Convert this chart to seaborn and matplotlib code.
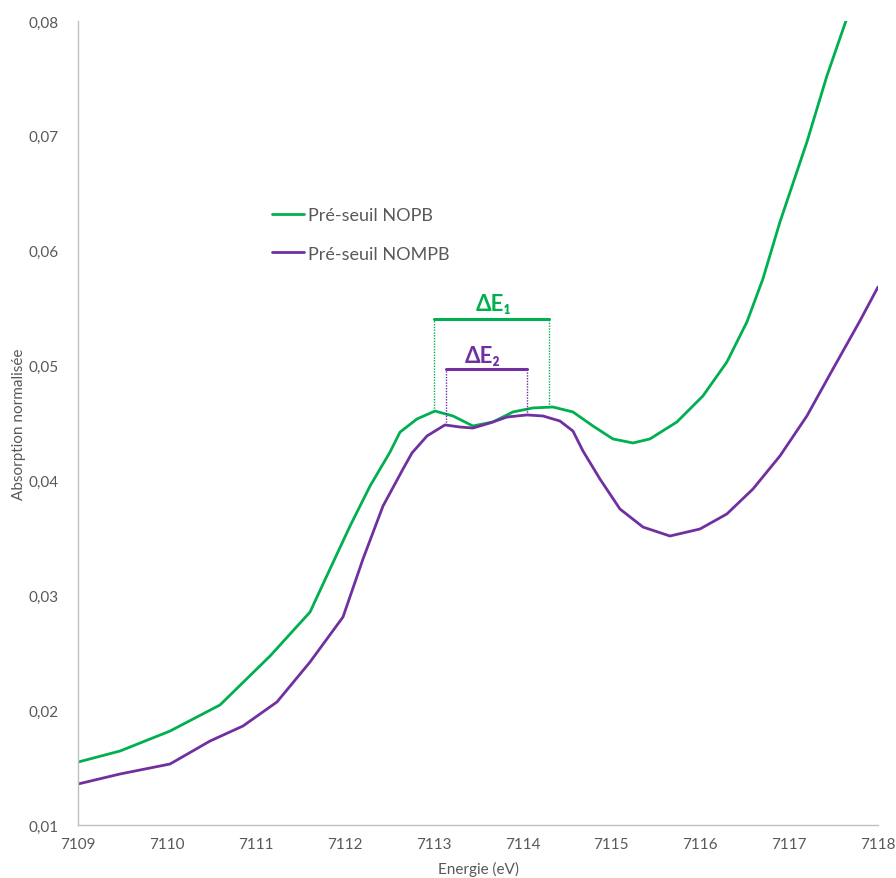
import numpy as np
import pandas as pd
import matplotlib
matplotlib.use("Agg")
import matplotlib.pyplot as plt
import seaborn as sns

# Données
energie_nopb = [7109.000, 7109.472, 7110.035, 7110.597, 7111.160, 7111.610, 7111.835, 7112.060,
                7112.285, 7112.510, 7112.622, 7112.813, 7113.016, 7113.218, 7113.443, 7113.668,
                7113.893, 7114.118, 7114.343, 7114.568, 7114.793, 7115.018, 7115.243, 7115.434,
                7115.738, 7116.030, 7116.300, 7116.525, 7116.705, 7116.897, 7117.200, 7117.425,
                7117.639]
absorption_nopb = [0.01548, 0.01644, 0.01818, 0.02045, 0.02471, 0.02854, 0.03229, 0.03603,
                   0.03951, 0.04247, 0.04420, 0.04535, 0.04604, 0.04561, 0.04474, 0.04509,
                   0.04596, 0.04631, 0.04639, 0.04596, 0.04474, 0.04361, 0.04326, 0.04361,
                   0.04509, 0.04735, 0.05031, 0.05379, 0.05754, 0.06250, 0.06946, 0.07521,
                   0.08000]

energie_nompb = [7109.000, 7109.472, 7110.035, 7110.485, 7110.856, 7111.238, 7111.610, 7111.981,
                 7112.206, 7112.431, 7112.656, 7112.757, 7112.926, 7113.128, 7113.297, 7113.443,
                 7113.634, 7113.826, 7114.051, 7114.231, 7114.422, 7114.568, 7114.681, 7114.872,
                 7115.097, 7115.356, 7115.659, 7115.997, 7116.300, 7116.593, 7116.897, 7117.200,
                 7117.493, 7117.796, 7118.000]
absorption_nompb = [0.01357, 0.01444, 0.01531, 0.01731, 0.01862, 0.02071, 0.02419, 0.02811,
                    0.03316, 0.03777, 0.04099, 0.04239, 0.04387, 0.04483, 0.04465, 0.04456,
                    0.04500, 0.04552, 0.04570, 0.04561, 0.04517, 0.04430, 0.04256, 0.04012,
                    0.03751, 0.03594, 0.03516, 0.03577, 0.03708, 0.03925, 0.04213, 0.04561,
                    0.04970, 0.05388, 0.05684]

# Intervalles ΔE (début, fin, hauteur) et bas des pointillés
de1 = (7113.00, 7114.30, 0.05405)
de1_bas = (0.04604, 0.04639)
de2 = (7113.14, 7114.05, 0.0497)
de2_bas = (0.04483, 0.04570)

vert = "#00B050"
violet = "#7030A0"
gris = "#595959"

sns.set_theme(style="white")
plt.rcParams['font.family'] = ['Lato', 'DejaVu Sans']

df = pd.concat([
    pd.DataFrame({'Energie': energie_nopb, 'Absorption': absorption_nopb, 'Serie': 'Pré-seuil NOPB'}),
    pd.DataFrame({'Energie': energie_nompb, 'Absorption': absorption_nompb, 'Serie': 'Pré-seuil NOMPB'}),
])

fig = plt.figure(figsize=(8.96, 8.79), dpi=100)
ax = fig.add_axes([0.0871, 0.0603, 0.8928, 0.9147])

sns.lineplot(data=df, x='Energie', y='Absorption', hue='Serie',
             palette={'Pré-seuil NOPB': vert, 'Pré-seuil NOMPB': violet},
             linewidth=2.0, sort=False, ax=ax)
for ln in ax.get_lines():
    ln.set_solid_joinstyle('round')
    ln.set_solid_capstyle('round')

# Annotations ΔE
ax.plot([de1[0], de1[1]], [de1[2], de1[2]], color=vert, lw=2.2)
ax.plot([de1[0], de1[0]], [de1_bas[0], de1[2]], color=vert, lw=1, ls=(0, (1, 1)))
ax.plot([de1[1], de1[1]], [de1_bas[1], de1[2]], color=vert, lw=1, ls=(0, (1, 1)))
ax.plot([de2[0], de2[1]], [de2[2], de2[2]], color=violet, lw=2.2)
ax.plot([de2[0], de2[0]], [de2_bas[0], de2[2]], color=violet, lw=1, ls=(0, (1, 1)))
ax.plot([de2[1], de2[1]], [de2_bas[1], de2[2]], color=violet, lw=1, ls=(0, (1, 1)))
ax.text((de1[0] + de1[1]) / 2 + 0.02, de1[2] + 0.0004, 'ΔE₁', color=vert, fontsize=16,
        fontweight='bold', ha='center', va='bottom')
ax.text((de2[0] + de2[1]) / 2 - 0.04, de2[2] + 0.0003, 'ΔE₂', color=violet, fontsize=16,
        fontweight='bold', ha='center', va='bottom')

ax.set_xlim(7109, 7118)
ax.set_ylim(0.01, 0.08)
ax.set_xticks(range(7109, 7119))
ax.set_yticks(np.arange(0.01, 0.081, 0.01))
ax.set_yticklabels([f"{v:.2f}".replace('.', ',') for v in np.arange(0.01, 0.081, 0.01)])
ax.tick_params(axis='both', length=0, labelsize=11, labelcolor=gris)
ax.tick_params(axis='y', pad=14)
ax.tick_params(axis='x', pad=9)

for s in ['top', 'right']:
    ax.spines[s].set_visible(False)
for s in ['left', 'bottom']:
    ax.spines[s].set_color('#BFBFBF')
    ax.spines[s].set_linewidth(1)

ax.set_xlabel('Energie (eV)', fontsize=11, color=gris, labelpad=7)
ax.set_ylabel('Absorption normalisée', fontsize=11, color=gris, labelpad=2)

leg = ax.legend(loc='upper left', bbox_to_anchor=(0.233, 0.777), frameon=False,
                fontsize=13, handlelength=1.8, handletextpad=0.2, labelspacing=1.22,
                borderaxespad=0)
for t in leg.get_texts():
    t.set_color(gris)
for h in leg.get_lines():
    h.set_linewidth(2.0)

fig.savefig('out.png', dpi=100)
